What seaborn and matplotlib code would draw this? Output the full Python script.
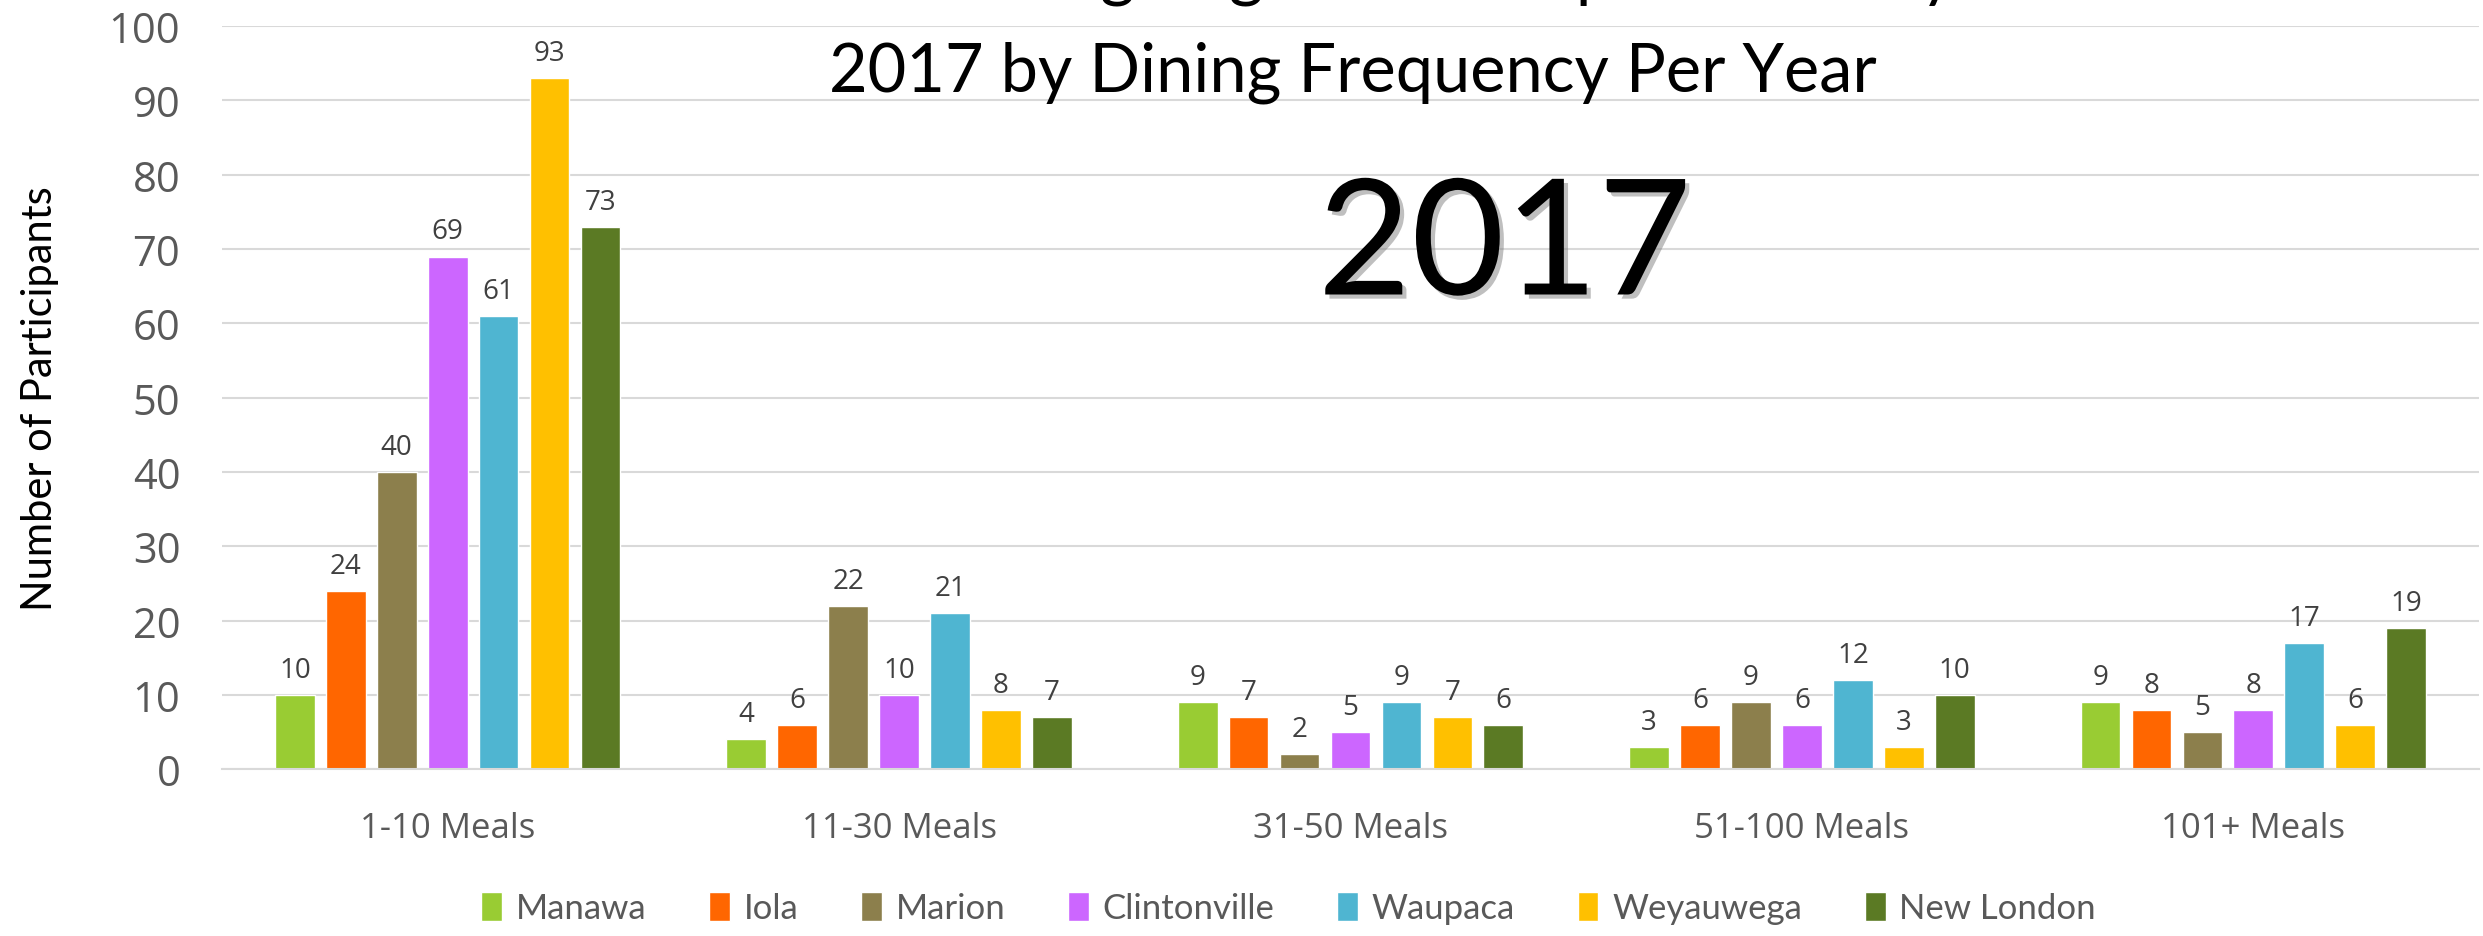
import numpy as np
import pandas as pd
import matplotlib
matplotlib.use('Agg')
import matplotlib.pyplot as plt
import matplotlib.patheffects as pe
import seaborn as sns

# Chart data
meals = ['1-10 Meals', '11-30 Meals', '31-50 Meals', '51-100 Meals', '101+ Meals']
towns = ['Manawa', 'Iola', 'Marion', 'Clintonville', 'Waupaca', 'Weyauwega', 'New London']
manawa = [10, 4, 9, 3, 9]
iola = [24, 6, 7, 6, 8]
marion = [40, 22, 2, 9, 5]
clintonville = [69, 10, 5, 6, 8]
waupaca = [61, 21, 9, 12, 17]
weyauwega = [93, 8, 7, 3, 6]
new_london = [73, 7, 6, 10, 19]
colors = ['#99CC33', '#FF6600', '#8C7F4C', '#CC66FF', '#4FB5D1', '#FFC000', '#5B7A24']

series = [manawa, iola, marion, clintonville, waupaca, weyauwega, new_london]
rows = []
for town, vals in zip(towns, series):
    for m, v in zip(meals, vals):
        rows.append({'Meals': m, 'Town': town, 'Count': v})
df = pd.DataFrame(rows)

sns.set_style('white')
plt.rcParams['font.family'] = ['Open Sans', 'DejaVu Sans']

fig = plt.figure(figsize=(24.83, 9.37), dpi=100)
ax = fig.add_axes([0.0894, 0.178, 0.909, 0.793])

sns.barplot(data=df, x='Meals', y='Count', hue='Town', hue_order=towns, order=meals,
            palette=colors, width=0.79, gap=0.22, saturation=1, ax=ax, errorbar=None)

for cont in ax.containers:
    ax.bar_label(cont, padding=8, fontsize=20, color='#404040')

ax.set_ylim(0, 100)
ax.set_yticks(range(0, 101, 10))
ax.set_xlim(-0.5, 4.5)
ax.yaxis.grid(True, color='#D9D9D9', linewidth=1.5)
ax.set_axisbelow(True)
for s in ['top', 'right', 'left']:
    ax.spines[s].set_visible(False)
ax.spines['bottom'].set_color('#D9D9D9')
ax.spines['bottom'].set_linewidth(1.5)
ax.tick_params(axis='y', length=0, pad=30, labelsize=30, labelcolor='#595959')
ax.tick_params(axis='x', length=0, pad=30, labelsize=25, labelcolor='#595959')
ax.set_xlabel('')
ax.set_ylabel('Number of Participants', fontsize=30, family='Lato', color='black')
ax.yaxis.set_label_coords(-0.072, 0.5)

# legend at bottom
handles, labels = ax.get_legend_handles_labels()
ax.get_legend().remove()
fig.legend(handles, labels, loc='center', bbox_to_anchor=(0.519, 0.03), ncol=7,
           frameon=False, handlelength=0.6, handleheight=0.9, handletextpad=0.4,
           columnspacing=1.8, prop={'family': 'Lato', 'size': 25}, labelcolor='#595959')

# title (first line cut off at top of image)
fig.text(0.545, 1 + 7 / 937, 'Number of Dining Regular Participants Surveyed in',
         ha='center', va='baseline', fontsize=48, family='Lato', color='black')
fig.text(0.545, 1 - 92 / 937, '2017 by Dining Frequency Per Year',
         ha='center', va='baseline', fontsize=48, family='Lato', color='black')

# big year label
fig.text(0.606, 1 - 250 / 937, '2017', ha='center', va='center', fontsize=116,
         family='Lato', color='black',
         path_effects=[pe.withSimplePatchShadow(offset=(3, -3), shadow_rgbFace='#808080', alpha=0.5)])

fig.savefig('out.png', dpi=100)
